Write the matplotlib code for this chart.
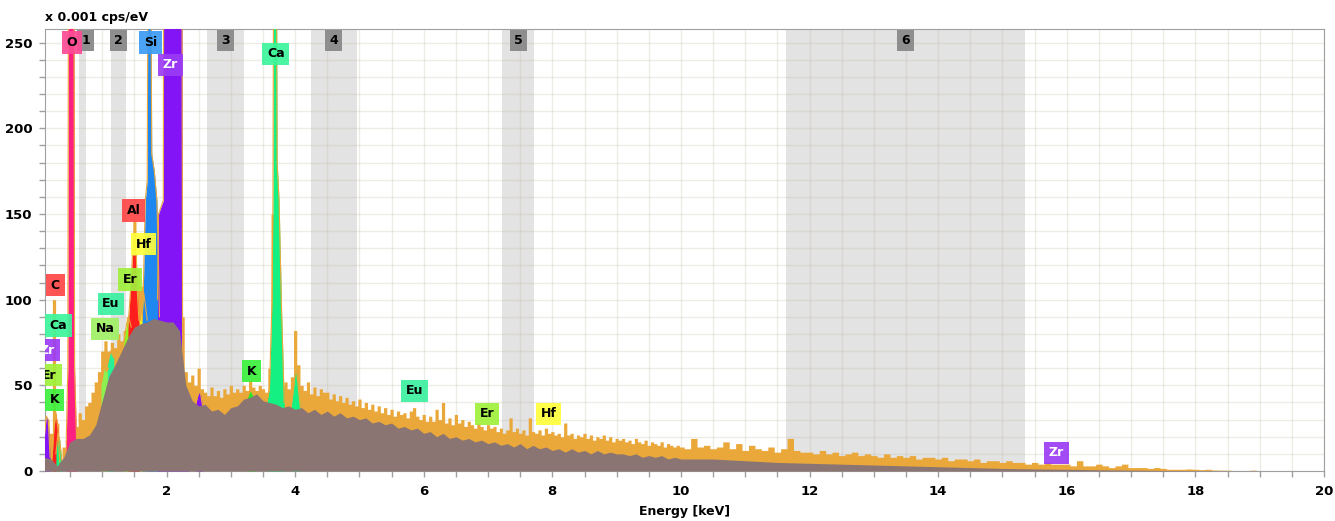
import numpy as np
import matplotlib
matplotlib.use("Agg")
import matplotlib.pyplot as plt

# ---------------- data ----------------
# measured spectrum (orange), channels of 0.05 keV from 0.10 to 9.95 keV
meas_lo = [24, 30, 22, 100, 28, 3, 14, 18, 22, 22, 26, 34, 30, 38, 40, 46, 52, 58, 70, 76,
           70, 75, 72, 80, 76, 82, 90, 118, 146, 118, 108, 112, 120, 130, 140, 112, 120, 150, 150, 150,
           150, 150, 150, 90, 58, 52, 56, 50, 60, 48, 46, 44, 49, 44, 47, 43, 48, 45, 50, 46,
           48, 46, 50, 47, 53, 49, 47, 50, 48, 46, 60, 150, 150, 120, 50, 52, 48, 55, 82, 62,
           50, 47, 52, 45, 49, 44, 48, 46, 46, 42, 45, 41, 44, 40, 43, 39, 41, 38, 42, 37,
           40, 36, 39, 35, 38, 34, 37, 33, 36, 32, 35, 33, 34, 31, 35, 37, 32, 30, 33, 29,
           32, 29, 36, 30, 40, 28, 31, 27, 33, 28, 30, 26, 29, 27, 25, 28, 26, 24, 27, 25,
           26, 23, 25, 22, 24, 31, 23, 25, 22, 24, 21, 31, 23, 22, 24, 21, 25, 22, 23, 21,
           22, 20, 28, 21, 22, 19, 21, 20, 22, 19, 21, 18, 20, 19, 21, 18, 20, 17, 19, 18,
           19, 17, 18, 16, 19, 17, 16, 18, 15, 17, 16, 15, 17, 14, 16, 15, 14, 15]
# measured spectrum, channels of 0.1 keV from 10.0 to 20.0 keV
meas_hi = [14, 13, 19, 14, 15, 13, 14, 17, 13, 16,
           12, 15, 13, 12, 14, 11, 13, 19, 12, 11,
           11, 10, 12, 10, 11, 9, 10, 11, 9, 10,
           9, 8, 10, 8, 9, 8, 9, 7, 8, 8,
           7, 8, 6, 7, 7, 6, 7, 5, 6, 6,
           5, 6, 5, 5, 4, 5, 4, 5, 4, 4,
           4, 3, 6, 3, 3, 4, 3, 2, 3, 4,
           2, 2, 2, 1.5, 2, 1.5, 1, 1, 1, 1.2,
           1, 0.8, 1, 0.6, 0.5, 0.5, 0.3, 0.3, 0.3, 0.5,
           0.2, 0.1, 0.2, 0.1, 0.1, 0.1, 0, 0, 0, 0, 0]
# background (brown), 0.1 keV points from 0.1 to 10.0 keV
bg_lo = [8, 7, 3, 8, 17, 19, 19, 21, 27, 41,
         55, 62, 70, 78, 84, 86, 87, 89, 88, 87,
         87, 82, 50, 41, 38, 39, 35, 36, 33, 37,
         38, 42, 43, 45, 41, 40, 39, 37, 38, 36,
         37, 34, 36, 33, 35, 32, 34, 31, 32, 30,
         31, 28, 29, 27, 28, 25, 26, 24, 25, 22,
         23, 20, 22, 19, 20, 18, 19, 17, 18, 16,
         17, 15, 16, 14, 16, 13, 15, 13, 14, 12,
         13, 11, 13, 11, 12, 10, 12, 10, 11, 10,
         10, 9, 10, 8, 9, 8, 9, 7, 8, 7]
# background, 0.5 keV points from 10.5 to 20.0 keV
bg_hi = [7, 6, 5, 4.5, 4, 3.5, 3, 2.5, 2, 1.5, 1.2, 1, 0.7, 0.5, 0.3, 0.2, 0.1, 0, 0, 0]

# element peak outlines (energy keV, height)
zrm_e = [0.10, 0.13, 0.16, 0.19]
zrm_v = [20, 32, 30, 8]
c_e = [0.22, 0.25, 0.28, 0.31, 0.34]
c_v = [8, 25, 34, 25, 5]
cal_e = [0.28, 0.31, 0.34, 0.37]
cal_v = [10, 22, 18, 6]
o_e = [0.44, 0.465, 0.475, 0.56, 0.57, 0.60]
o_v = [17, 60, 300, 300, 60, 19]
na_e = [0.98, 1.02, 1.04, 1.06, 1.10]
na_v = [50, 58, 62, 58, 60]
eu_e = [1.08, 1.13, 1.18]
eu_v = [62, 70, 66]
er_e = [1.33, 1.38, 1.41, 1.45]
er_v = [74, 86, 90, 84]
al_e = [1.40, 1.43, 1.455, 1.47, 1.53, 1.545, 1.57]
al_v = [84, 100, 115, 126, 126, 105, 88]
hf_e = [1.58, 1.62, 1.645, 1.67, 1.70]
hf_v = [87, 95, 104, 97, 88]
si_e = [1.62, 1.635, 1.67, 1.70, 1.71, 1.755, 1.77, 1.81, 1.85, 1.875, 1.89]
si_v = [88, 100, 158, 170, 300, 300, 185, 175, 158, 120, 90]
zr_e = [1.86, 1.875, 1.95, 1.955, 2.24, 2.25, 2.27, 2.30, 2.34]
zr_v = [100, 150, 158, 300, 300, 65, 55, 45, 41]
zr2_e = [2.46, 2.50, 2.53, 2.56]
zr2_v = [40, 46, 45, 38]
k_e = [3.25, 3.29, 3.31, 3.34, 3.38]
k_v = [42, 46, 47, 45, 42]
ca_e = [3.56, 3.60, 3.64, 3.655, 3.665, 3.71, 3.72, 3.75, 3.785, 3.83]
ca_v = [40, 48, 99, 158, 300, 300, 180, 158, 99, 40]
cab_e = [3.94, 3.98, 4.01, 4.04, 4.08]
cab_v = [38, 50, 61, 52, 37]

# shaded regions
band_lo = [0.645, 1.14, 2.63, 4.24, 7.22, 11.63]
band_hi = [0.74, 1.37, 3.20, 4.96, 7.71, 15.35]
band_txt = ['1', '2', '3', '4', '5', '6']
band_pos = [0.74, 1.255, 2.92, 4.60, 7.47, 13.49]

# element labels
lab_txt = ['Si', 'Zr', 'Ca', 'Al', 'Hf', 'Er', 'C', 'Eu', 'Ca', 'Na',
           'Zr', 'Er', 'K', 'K', 'Eu', 'Er', 'Hf', 'Zr', 'O']
lab_e = [1.755, 2.06, 3.70, 1.49, 1.64, 1.43, 0.27, 1.136, 0.32, 1.045,
         0.15, 0.18, 0.26, 3.32, 5.86, 6.98, 7.94, 15.84, 0.53]
lab_v = [250, 237, 243.5, 152, 132.5, 111.8, 108.5, 97.5, 85, 83,
         70.6, 56, 41.5, 58.3, 46.7, 33.3, 33.3, 10.6, 250]

# ---------------- styling ----------------
ORANGE = '#eba83a'
BROWN = '#8b7572'
C_PINK, L_PINK = '#ff1e82', '#ff4b96'
C_BLUE, L_BLUE = '#1e87f0', '#3d9bf5'
C_PURP, L_PURP = '#8214f5', '#9b3cf5'
C_MINT, L_MINT = '#14f082', '#3cf59b'
C_RED, L_RED = '#ff1e1e', '#ff4646'
C_YEL, L_YEL = '#f5f51e', '#ffff3c'
C_LIME, L_LIME = '#96f01e', '#a0f03c'
C_NA, L_NA = '#8cf050', '#a0f064'
C_K, L_K = '#28e628', '#3cf03c'
C_EU, L_EU = '#28f096', '#3cf0a0'

lab_col = [L_BLUE, L_PURP, L_MINT, L_RED, L_YEL, L_LIME, L_RED, L_EU, L_MINT, L_NA,
           L_PURP, L_LIME, L_K, L_K, L_EU, L_LIME, L_YEL, L_PURP, L_PINK]

fig = plt.figure(figsize=(13.35, 5.21), dpi=100)
ax = fig.add_axes([45 / 1335, 1 - 471 / 521, 1279 / 1335, 442 / 521])

e_meas = np.concatenate([0.10 + 0.05 * np.arange(len(meas_lo)), 10.0 + 0.1 * np.arange(len(meas_hi))])
v_meas = np.array(meas_lo + meas_hi, dtype=float)
e_bg = np.concatenate([0.1 + 0.1 * np.arange(len(bg_lo)), 10.5 + 0.5 * np.arange(len(bg_hi))])
v_bg = np.array(bg_lo + bg_hi, dtype=float)

# bands
for lo, hi in zip(band_lo, band_hi):
    ax.axvspan(lo, hi, color='#e3e3e3', lw=0, zorder=0)

# measured spectrum
ax.fill_between(e_meas, 0, v_meas, step='mid', color=ORANGE, lw=0, zorder=2)

peaks = [(zrm_e, zrm_v, C_PURP), (c_e, c_v, C_RED), (cal_e, cal_v, C_MINT),
         (o_e, o_v, C_PINK), (na_e, na_v, C_NA), (eu_e, eu_v, C_EU), (er_e, er_v, C_LIME),
         (al_e, al_v, C_RED), (hf_e, hf_v, C_YEL), (si_e, si_v, C_BLUE), (zr_e, zr_v, C_PURP),
         (zr2_e, zr2_v, C_PURP), (k_e, k_v, C_K), (ca_e, ca_v, C_MINT), (cab_e, cab_v, C_MINT)]
for pe, pv, col in peaks:
    ax.fill_between(pe, 0, pv, color=col, lw=0, zorder=3)
    ax.plot(pe, pv, color=ORANGE, lw=0.8, zorder=3.2)

# background
ax.fill_between(e_bg, 0, v_bg, color=BROWN, lw=0, zorder=4)

# axes
ax.set_xlim(0.11, 20)
ax.set_ylim(0, 258)
ax.set_xticks(np.arange(2, 21, 2))
ax.set_xticks(np.arange(0.5, 20, 0.5), minor=True)
ax.set_yticks(np.arange(0, 251, 50))
ax.set_yticks(np.arange(0, 258, 10), minor=True)
ax.grid(True, which='both', color='#bfb49c', alpha=0.25, lw=1)
ax.set_axisbelow(True)
for s in ax.spines.values():
    s.set_color('#a0a0a0')
ax.tick_params(which='both', colors='#a0a0a0', length=4, width=1)
ax.tick_params(axis='x', which='major', pad=6)
ax.tick_params(axis='y', which='major', pad=5)
for lab in ax.get_xticklabels() + ax.get_yticklabels():
    lab.set_color('black')
    lab.set_fontweight('bold')
    lab.set_fontsize(9.5)

ax.set_xlabel('Energy [keV]', fontsize=9, fontweight='bold', labelpad=5)
fig.text(45 / 1335, 1 - 18 / 521, 'x 0.001 cps/eV', fontsize=9, fontweight='bold',
         ha='left', va='center')

# band labels
for t, e in zip(band_txt, band_pos):
    ax.text(e, 251.3, t, ha='center', va='center', fontsize=9, fontweight='bold',
            color='black', zorder=6, clip_on=True,
            bbox=dict(boxstyle='square,pad=0.33', fc='#8e8e8e', ec='none'))

# element labels
for t, e, v, col in zip(lab_txt, lab_e, lab_v, lab_col):
    tc = 'white' if col == L_PURP else 'black'
    ax.text(e, v, t, ha='center', va='center', fontsize=9, fontweight='bold',
            color=tc, zorder=7, clip_on=True,
            bbox=dict(boxstyle='square,pad=0.38', fc=col, ec='none', alpha=0.92))

fig.savefig('out.png', dpi=100)
